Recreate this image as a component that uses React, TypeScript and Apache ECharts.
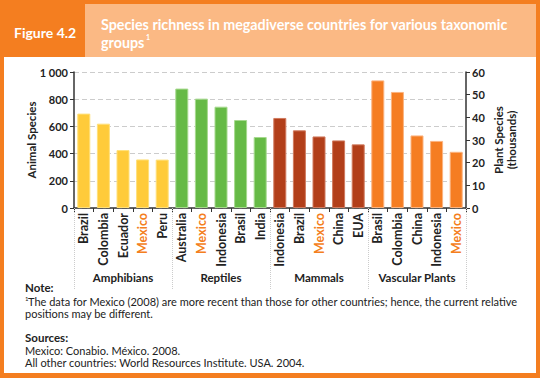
import React, { useEffect, useRef } from "react";
import * as echarts from "echarts";

const groups = ["Amphibians", "Reptiles", "Mammals", "Vascular Plants"];
const amphibianCountries = ["Brazil", "Colombia", "Ecuador", "Mexico", "Peru"];
const amphibianValues = [694, 620, 426, 357, 356];
const reptileCountries = ["Australia", "Mexico", "Indonesia", "Brasil", "India"];
const reptileValues = [878, 804, 745, 647, 522];
const mammalCountries = ["Indonesia", "Brazil", "Mexico", "China", "EUA"];
const mammalValues = [662, 571, 526, 497, 468];
const plantCountries = ["Brasil", "Colombia", "China", "Indonesia", "Mexico"];
const plantValues = [56.3, 51.2, 32.0, 29.6, 24.8]; // thousands

const leftTicks = ["0", "200", "400", "600", "800", "1 000"];
const rightTicks = ["0", "10", "20", "30", "40", "50", "60"];

const groupColors = ["#FFCB3A", "#66BA46", "#B23F1A", "#F57D22"];
const groupBorders = ["#FFE07A", "#A6D98E", "#D07A5E", "#FBB37F"];

const ORANGE = "#F47E20";
const LIGHT = "#FBB984";
const FONT = "Lato, 'Open Sans', sans-serif";

export default function App() {
  const ref = useRef<HTMLDivElement>(null);
  useEffect(() => {
    if (!ref.current) return;
    const chart = echarts.init(ref.current, undefined, { renderer: "svg" });

    const countryLists = [amphibianCountries, reptileCountries, mammalCountries, plantCountries];
    const categories: string[] = [];
    countryLists.forEach((list, g) => list.forEach((c, i) => categories.push(`${g}-${i}-${c}`)));

    const animalLists = [amphibianValues, reptileValues, mammalValues];
    const animalData: any[] = [];
    animalLists.forEach((vals, g) =>
      vals.forEach((v) =>
        animalData.push({
          value: v,
          itemStyle: { color: groupColors[g], borderColor: groupBorders[g], borderWidth: 1 },
        })
      )
    );
    plantCountries.forEach(() => animalData.push(null));

    const plantData: any[] = [];
    animalLists.forEach((vals) => vals.forEach(() => plantData.push(null)));
    plantValues.forEach((v) =>
      plantData.push({
        value: v,
        itemStyle: { color: groupColors[3], borderColor: groupBorders[3], borderWidth: 1 },
      })
    );

    const axisLabelStyle = { fontFamily: FONT, fontSize: 11, fontWeight: "bold" as const, color: "#222" };
    const catLabelStyle = { ...axisLabelStyle, fontSize: 12.5 };

    chart.setOption({
      animation: false,
      backgroundColor: ORANGE,
      graphic: [
        { type: "rect", shape: { x: 4, y: 57, width: 532, height: 316 }, style: { fill: "#fff" }, z: -10 },
        { type: "rect", shape: { x: 85, y: 4, width: 451, height: 53 }, style: { fill: LIGHT }, z: -10 },
        {
          type: "text",
          x: 14,
          y: 32,
          style: { text: "Figure 4.2", fill: "#fff", font: `bold 14px ${FONT}`, verticalAlign: "middle" },
        },
        {
          type: "text",
          x: 101,
          y: 24,
          style: {
            text: "Species richness in megadiverse countries for various taxonomic",
            fill: "#fff",
            font: `bold 14.3px ${FONT}`,
            verticalAlign: "middle",
          },
        },
        {
          type: "group",
          x: 101,
          y: 42,
          children: [
            {
              type: "text",
              x: 0,
              y: 0,
              style: { text: "groups", fill: "#fff", font: `bold 14.3px ${FONT}`, verticalAlign: "middle" },
            },
            {
              type: "text",
              x: 45,
              y: -5,
              style: { text: "1", fill: "#fff", font: `bold 7px ${FONT}`, verticalAlign: "middle" },
            },
          ],
        },
        {
          type: "text",
          x: 25,
          y: 287,
          style: { text: "Note:", fill: "#222", font: `bold 11.5px ${FONT}`, verticalAlign: "middle" },
        },
        {
          type: "text",
          x: 25,
          y: 298,
          style: { text: "1", fill: "#222", font: `6px ${FONT}`, verticalAlign: "middle" },
        },
        {
          type: "text",
          x: 28,
          y: 301,
          style: {
            text: "The data for Mexico (2008) are more recent than those for other countries; hence, the current relative",
            fill: "#222",
            font: `11px ${FONT}`,
            verticalAlign: "middle",
          },
        },
        {
          type: "text",
          x: 25,
          y: 313,
          style: { text: "positions may be different.", fill: "#222", font: `11px ${FONT}`, verticalAlign: "middle" },
        },
        {
          type: "text",
          x: 25,
          y: 337,
          style: { text: "Sources:", fill: "#222", font: `bold 11.5px ${FONT}`, verticalAlign: "middle" },
        },
        {
          type: "text",
          x: 25,
          y: 350,
          style: {
            text: "Mexico: Conabio. México. 2008.",
            fill: "#222",
            font: `11px ${FONT}`,
            verticalAlign: "middle",
          },
        },
        {
          type: "text",
          x: 25,
          y: 362,
          style: {
            text: "All other countries: World Resources Institute. USA. 2004.",
            fill: "#222",
            font: `11px ${FONT}`,
            verticalAlign: "middle",
          },
        },
      ],
      grid: { left: 74, right: 74, top: 72, bottom: 170, containLabel: false },
      xAxis: [
        {
          type: "category",
          data: categories,
          axisLine: { show: true, lineStyle: { color: "#333", width: 1.5 } },
          axisTick: { show: true, length: 4, lineStyle: { color: "#333" } },
          axisLabel: {
            rotate: 90,
            margin: 5,
            interval: 0,
            ...catLabelStyle,
            formatter: (v: string) => {
              const name = v.split("-")[2];
              return name === "Mexico" ? `{m|${name}}` : name;
            },
            rich: { m: { ...catLabelStyle, color: ORANGE } },
          },
        },
        {
          type: "category",
          data: groups,
          position: "bottom",
          axisLine: { show: false },
          axisTick: { show: true, length: 82, lineStyle: { color: "#ccc", type: "dotted", width: 1 } },
          axisLabel: { margin: 63, interval: 0, ...axisLabelStyle, fontSize: 11.5 },
        },
      ],
      yAxis: [
        {
          type: "value",
          min: 0,
          max: 1000,
          interval: 200,
          name: "Animal Species",
          nameLocation: "middle",
          nameGap: 37,
          nameMoveOverlap: false,
          nameTextStyle: { ...axisLabelStyle, fontSize: 11.5 },
          axisLine: { show: true, lineStyle: { color: "#333", width: 1.5 } },
          axisTick: { show: true, length: 4, lineStyle: { color: "#333" } },
          axisLabel: {
            ...axisLabelStyle,
            margin: 6,
            formatter: (v: number) => leftTicks[Math.round(v / 200)],
          },
          splitLine: { show: true, lineStyle: { color: "#ccc", type: [5, 3], width: 1.2 } },
        },
        {
          type: "value",
          min: 0,
          max: 60,
          interval: 10,
          position: "right",
          name: "Plant Species\n(thousands)",
          nameLocation: "middle",
          nameGap: 26,
          nameMoveOverlap: false,
          nameTextStyle: { ...axisLabelStyle, fontSize: 11.5, lineHeight: 13 },
          axisLine: { show: true, lineStyle: { color: "#333", width: 1.5 } },
          axisTick: { show: true, length: 4, lineStyle: { color: "#333" } },
          axisLabel: {
            ...axisLabelStyle,
            margin: 6,
            formatter: (v: number) => rightTicks[Math.round(v / 10)],
          },
          splitLine: { show: false },
        },
      ],
      series: [
        { type: "bar", xAxisIndex: 0, yAxisIndex: 0, data: animalData, barWidth: 13, barGap: "-100%" },
        { type: "bar", xAxisIndex: 0, yAxisIndex: 1, data: plantData, barWidth: 13, barGap: "-100%" },
      ],
    });
    return () => chart.dispose();
  }, []);
  return <div ref={ref} style={{ position: "fixed", left: 0, top: 0, width: 540, height: 378 }} />;
}
